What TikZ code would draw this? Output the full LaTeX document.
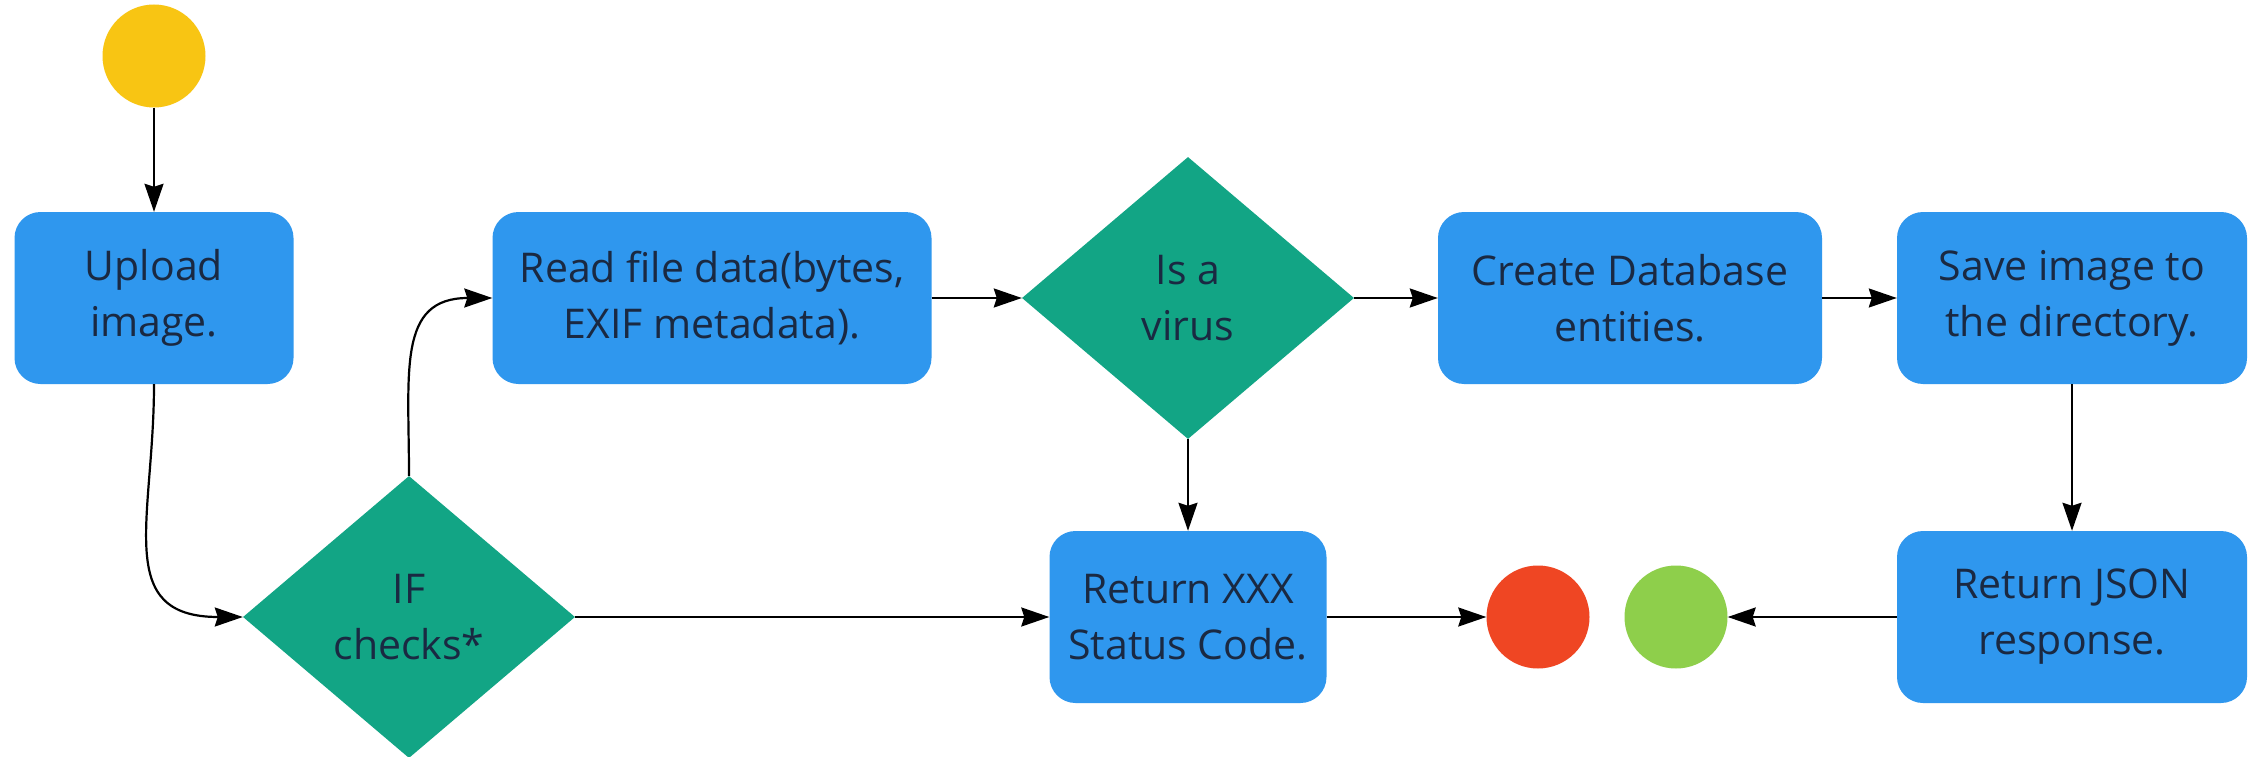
\documentclass[tikz,border=0pt]{standalone}
\usepackage{fontspec}
\setmainfont{Open Sans}
\usetikzlibrary{shapes.geometric,arrows.meta,calc}
\definecolor{boxblue}{HTML}{2F97EE}
\definecolor{decgreen}{HTML}{12A585}
\definecolor{startyellow}{HTML}{F8C513}
\definecolor{endred}{HTML}{EF4623}
\definecolor{endgreen}{HTML}{8ECF4B}
\definecolor{txt}{HTML}{1A2942}
\tikzset{
  procbox/.style={fill=boxblue, rounded corners=26pt, align=center, inner sep=0pt,
    minimum height=172pt, text=txt, font=\fontsize{41}{56}\selectfont},
  decision/.style={diamond, aspect=1.177, fill=decgreen, minimum width=332pt, minimum height=282pt,
    inner sep=0pt, align=center, text=txt, font=\fontsize{41}{56}\selectfont},
  dot/.style={circle, inner sep=0pt, minimum size=103pt},
  flow/.style={draw=black, line width=2.2pt, -{Stealth[length=28pt,width=19pt,inset=3pt]}},
}
\begin{document}
\begin{tikzpicture}[x=1pt,y=-1pt]
\useasboundingbox[fill=white] (0,0) rectangle (2254,757);
% nodes
\node[dot, fill=startyellow] (start) at (154,56) {};
\node[procbox, minimum width=279pt] (up) at (154,298) {Upload\\image.};
\node[procbox, minimum width=439pt] (read) at (712,298) {Read file data(bytes,\\EXIF metadata).};
\node[decision] (virus) at (1188,298) {Is a\\virus};
\node[procbox, minimum width=384pt] (create) at (1630,298) {Create Database\\entities.};
\node[procbox, minimum width=350pt] (save) at (2072,298) {Save image to\\the directory.};
\node[decision] (ifd) at (409,617) {IF\\checks*};
\node[procbox, minimum width=277pt] (xxx) at (1188,617) {Return XXX\\Status Code.};
\node[dot, fill=endred] (red) at (1538,617) {};
\node[dot, fill=endgreen] (green) at (1676,617) {};
\node[procbox, minimum width=350pt] (json) at (2072,617) {Return JSON\\response.};
% connectors
\draw[flow] (start) -- (up);
\draw[flow] (up.south) .. controls ($(up.south)+(0,135)$) and ($(ifd.west)+(-130,0)$) .. (ifd.west);
\draw[flow] (ifd.north) .. controls ($(ifd.north)+(0,-105)$) and ($(read.west)+(-95,0)$) .. (read.west);
\draw[flow] (read) -- (virus);
\draw[flow] (virus) -- (create);
\draw[flow] (create) -- (save);
\draw[flow] (save) -- (json);
\draw[flow] (virus) -- (xxx);
\draw[flow] (ifd) -- (xxx);
\draw[flow] (xxx) -- (red);
\draw[flow] (json) -- (green);
\end{tikzpicture}
\end{document}
